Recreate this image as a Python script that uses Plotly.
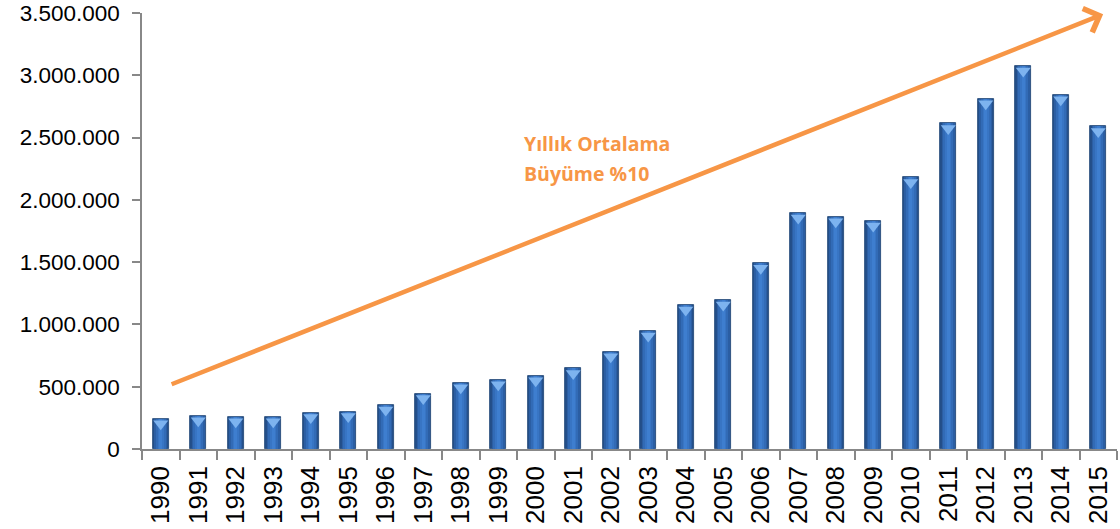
import plotly.graph_objects as go

years = [str(y) for y in range(1990, 2016)]
values = [242000, 266000, 258000, 258000, 293000, 301000, 353000, 445000, 532000, 556000,
          588000, 647000, 780000, 947000, 1155000, 1196000, 1492000, 1895000, 1865000, 1830000,
          2180000, 2613000, 2812000, 3075000, 2844000, 2589000]
y_ticks = [0, 500000, 1000000, 1500000, 2000000, 2500000, 3000000, 3500000]

# trend arrow (category index, value)
arrow_start = (0.25, 515000)
arrow_end = (25.13, 3490000)
label_lines = ["Yıllık Ortalama", "Büyüme %10"]
label_x = 9.63
label_y = [2456000, 2209000]

ORANGE = "#F79646"

fig = go.Figure()

# layered bars to imitate the horizontal shading of the original columns
layers = [
    (0.43, "#244f8a", "#1d4274"),
    (0.35, "#2b5ea3", None),
    (0.26, "#326bb6", None),
    (0.16, "#3875c4", None),
    (0.07, "#3e7ecf", None),
]
for w, col, line in layers:
    fig.add_trace(go.Bar(
        x=years, y=values, width=w,
        marker=dict(color=col,
                    line=dict(color=line if line else col, width=0.8 if line else 0)),
        hoverinfo="skip", showlegend=False,
    ))

# light bevel triangle at the top of each column
px_per_unit = 436.0 / 3500000.0
tri_y = [v - 5.0 / px_per_unit for v in values]
fig.add_trace(go.Scatter(
    x=years, y=tri_y, mode="markers",
    marker=dict(symbol="triangle-down", size=13, color="#7db3ef",
                line=dict(width=0)),
    hoverinfo="skip", showlegend=False, cliponaxis=False,
))

fig.add_annotation(
    x=arrow_end[0], y=arrow_end[1], ax=arrow_start[0], ay=arrow_start[1],
    xref="x", yref="y", axref="x", ayref="y",
    text="", showarrow=True, arrowhead=4, arrowsize=1.1, arrowwidth=4.5,
    arrowcolor=ORANGE, standoff=0, startstandoff=0,
)
for txt, yy in zip(label_lines, label_y):
    fig.add_annotation(
        x=label_x, y=yy, xref="x", yref="y",
        text=txt, showarrow=False, xanchor="left", yanchor="middle", align="left",
        font=dict(family="Open Sans", size=19.5, color=ORANGE, weight="bold"),
    )

fig.update_layout(
    width=1120, height=529,
    margin=dict(l=142, r=3, t=13, b=80),
    paper_bgcolor="white", plot_bgcolor="white",
    barmode="overlay", bargap=0.0,
    separators=",.",
    showlegend=False,
    font=dict(family="Liberation Sans", size=22.5, color="#000000"),
)
fig.update_xaxes(
    type="category", range=[-0.5, 25.5], tickangle=-90, tickson="boundaries",
    ticks="outside", ticklen=9, tickcolor="#888888", tickwidth=1.5,
    ticklabelstandoff=5,
    showline=True, linecolor="#888888", linewidth=1.5, automargin=False,
    showgrid=False, tickfont=dict(size=26, family="Liberation Sans"),
)
fig.update_yaxes(
    range=[0, 3500000], tickvals=y_ticks, tickformat=",d",
    ticks="outside", ticklen=8, tickcolor="#888888", tickwidth=1.5,
    ticklabelstandoff=8, ticklabeloverflow="allow",
    showline=True, linecolor="#888888", linewidth=1.5, automargin=False,
    showgrid=False, zeroline=False, tickfont=dict(size=22.5, family="Liberation Sans"),
)

fig.write_html("out.html", config={"displayModeBar": False},
               post_script="document.body.style.margin='0';")
